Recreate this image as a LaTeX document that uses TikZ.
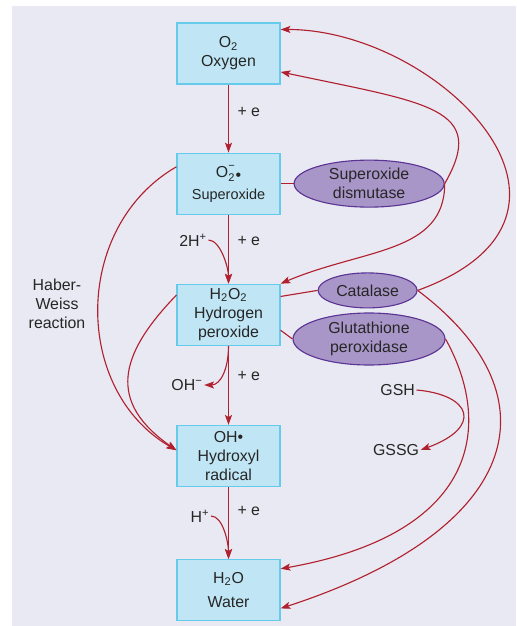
\documentclass[tikz,border=0pt]{standalone}
\usepackage{fontspec}
\setmainfont{Liberation Sans}
\usepackage{xcolor}
\usepackage{tikz}
\usetikzlibrary{arrows.meta, shapes, positioning, calc}

\definecolor{bgcol}{HTML}{E9E9F3}
\definecolor{boxfill}{HTML}{C0E6F5}
\definecolor{boxline}{HTML}{66CBEA}
\definecolor{enzfill}{HTML}{A996C8}
\definecolor{enzline}{HTML}{5B3494}
\definecolor{rxn}{HTML}{B0202E}
\definecolor{txt}{HTML}{262626}

\newcommand{\subsup}[2]{\rlap{\raisebox{-0.1em}{\textsubscript{#1}}}\raisebox{0.15em}{\textsuperscript{#2}}}

\begin{document}
\begin{tikzpicture}[
        font=\fontsize{11.3}{13.6}\selectfont, text=txt,
        box/.style={rectangle, draw=boxline, line width=0.8pt, fill=boxfill, minimum width=2.575cm, minimum height=1.525cm, align=center, inner sep=1pt},
        enzyme/.style={ellipse, draw=enzline, line width=0.8pt, fill=enzfill, align=center, inner sep=0pt},
        lbl/.style={inner sep=1pt, align=center, text=txt},
        arrow/.style={rxn, line width=0.8pt, -{Stealth[length=7pt, width=5pt, inset=1.5pt]}},
        link/.style={rxn, line width=0.8pt}
    ]
        \useasboundingbox (0,0) rectangle (12.9,-15.65);
        \fill [bgcol] (0.3,-0.15) rectangle (12.9,-15.65);

        \node (o2) [box] at (5.7125,-1.3375) {O\textsubscript{2}\\Oxygen};
        \node (sup) [box, below=1.7cm of o2] {O\subsup{2}{−}\raisebox{-0.2em}{•}\\[2pt]{\fontsize{10.3}{12}\selectfont Superoxide}};
        \node (hp) [box, below=1.725cm of sup] {H\textsubscript{2}O\textsubscript{2}\\Hydrogen\\peroxide};
        \node (oh) [box, below=1.975cm of hp] {OH•\\Hydroxyl\\radical};
        \node (water) [box, below=1.8cm of oh] {H\textsubscript{2}O\\[4pt]Water};

        \node (sod) [enzyme, minimum width=3.75cm, minimum height=1.175cm, right=0.325cm of sup] {Superoxide\\dismutase};
        \node (cat) [enzyme, minimum width=2.475cm, minimum height=0.875cm] at (9.19,-7.26) {Catalase};
        \node (gpx) [enzyme, minimum width=3.8cm, minimum height=1.3cm] at (9.225,-8.475) {Glutathione\\peroxidase};

        \node (htwo) [lbl] at (4.825,-6.0) {2H\textsuperscript{+}};
        \node (ohminus) [lbl] at (4.675,-9.625) {OH\textsuperscript{−}};
        \node (hplus) [lbl] at (5.0,-12.9) {H\textsuperscript{+}};
        \node (gsh) [lbl] at (9.94,-9.75) {GSH};
        \node (gssg) [lbl] at (9.9,-11.25) {GSSG};
        \node (haber) [lbl] at (1.425,-7.6) {Haber-\\Weiss\\reaction};

        % one-electron steps down the chain
        \draw [arrow] (o2) -- node (e1) [lbl, right=5pt, pos=0.4] {+ e} (sup);
        \draw [arrow] (sup) -- node (e2) [lbl, right=5pt, pos=0.38] {+ e} (hp);
        \draw [arrow] (hp) -- node (e3) [lbl, right=5pt, pos=0.38] {+ e} (oh);
        \draw [arrow] (oh) -- node (e4) [lbl, right=5pt, pos=0.33] {+ e} (water);

        \draw [arrow] (htwo.east) to[out=0, in=90, out distance=0.3cm, in distance=0.4cm] (hp.north);
        \draw [arrow] (hp.south) to[out=-90, in=0, out distance=0.6cm, in distance=0.4cm] (ohminus.east);
        \draw [arrow] (hplus.east) to[out=0, in=90, out distance=0.3cm, in distance=0.4cm] (water.north);

        % Haber-Weiss
        \draw [arrow] ([yshift=12pt]sup.west) to[out=210, in=150, out distance=3cm, in distance=3cm] ([yshift=4pt]oh.west);
        \draw [arrow] ([yshift=14pt]hp.west) to[out=226, in=145, out distance=2.1cm, in distance=2.1cm] ([yshift=4pt]oh.west);

        % enzymes
        \draw [link] (sup) -- (sod);
        \draw [link] ([yshift=13pt]hp.east) -- (cat.west);
        \draw [link] ([yshift=-11pt]hp.east) -- (gpx.west);

        \draw [arrow] (sod.east) to[out=60, in=-12, out distance=2.2cm, in distance=3.75cm] ([yshift=9pt]o2.south east);
        \draw [arrow] (sod.east) to[out=-90, in=23, out distance=1.75cm, in distance=2.25cm] (hp.north east);
        \draw [arrow] (cat.east) to[out=20, in=0, out distance=5.5cm, in distance=3.95cm] ([yshift=-5pt]o2.north east);
        \draw [arrow] (cat.east) to[out=-37, in=18, out distance=4.5cm, in distance=6.25cm] ([yshift=9pt]water.south east);
        \draw [arrow] (gpx.east) to[out=-61, in=10, out distance=2.5cm, in distance=5cm] ([yshift=-7pt]water.north east);
        \draw [arrow] (gsh.east) to[out=-5, in=20, out distance=1.4cm, in distance=1.65cm] (gssg.east);
    \end{tikzpicture}
\end{document}
